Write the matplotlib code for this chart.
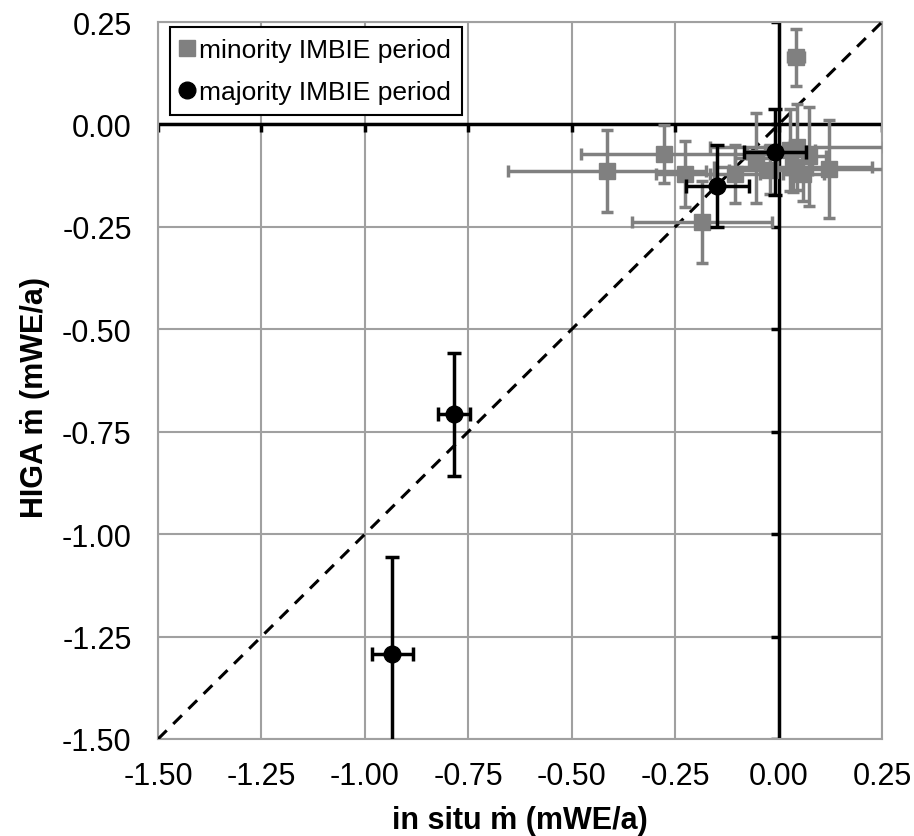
import matplotlib
matplotlib.use("Agg")
import matplotlib.pyplot as plt
from matplotlib.lines import Line2D

plt.rcParams['font.family'] = ['Liberation Sans', 'DejaVu Sans']

# minority IMBIE period (grey squares)
minority_x = [0.042, -0.415, -0.277, -0.226, -0.185, -0.105, -0.055, 0.028, 0.044, 0.060, 0.074, 0.122, 0.035, -0.020]
minority_y = [0.164, -0.113, -0.072, -0.121, -0.238, -0.121, -0.082, -0.062, -0.055, -0.120, -0.078, -0.109, -0.105, -0.110]
minority_xerr = [0.02, 0.24, 0.20, 0.07, 0.17, 0.06, 0.05, 0.06, 0.21, 0.05, 0.04, 0.14, 0.19, 0.10]
minority_yerr = [0.07, 0.10, 0.07, 0.08, 0.10, 0.07, 0.11, 0.10, 0.105, 0.066, 0.12, 0.12, 0.06, 0.06]

# majority IMBIE period (black circles)
majority_x = [-0.934, -0.785, -0.148, -0.009]
majority_y = [-1.293, -0.707, -0.150, -0.068]
majority_xerr = [0.05, 0.039, 0.076, 0.075]
majority_yerr = [0.236, 0.15, 0.10, 0.105]

ticks = [-1.5, -1.25, -1.0, -0.75, -0.5, -0.25, 0.0, 0.25]
tick_labels = ["%.2f" % t for t in ticks]

fig = plt.figure(figsize=(9.14, 8.37), dpi=100)
ax = fig.add_axes([0.1729, 0.1159, 0.7921, 0.8566])

ax.set_xlim(-1.5, 0.25)
ax.set_ylim(-1.5, 0.25)
ax.set_xticks(ticks)
ax.set_yticks(ticks)
ax.set_xticklabels(tick_labels, fontsize=22)
ax.set_yticklabels(tick_labels, fontsize=22)
ax.tick_params(axis='x', length=0, pad=16)
ax.tick_params(axis='y', length=0, pad=19)
ax.grid(True, color='#a0a0a0', lw=1.5)
ax.set_axisbelow(True)
for sp in ax.spines.values():
    sp.set_color('#a0a0a0')
    sp.set_linewidth(1.5)

# zero axes with tick marks (Excel style)
ax.axhline(0, color='black', lw=2.5, zorder=2)
ax.axvline(0, color='black', lw=2.5, zorder=2)
ax.plot(ticks, [0] * len(ticks), ls='none', marker=3, ms=6, mew=2.5, color='black', zorder=2)
ax.plot([0] * len(ticks), ticks, ls='none', marker=0, ms=6, mew=2.5, color='black', zorder=2)

# 1:1 line
ax.plot(ticks, ticks, color='black', ls=(0, (4, 3)), lw=2.2, zorder=3)

ax.errorbar(minority_x, minority_y, xerr=minority_xerr, yerr=minority_yerr,
            fmt='s', color='#808080', ms=11, elinewidth=2.5, capsize=4, capthick=2.5, zorder=4)
ax.errorbar(majority_x, majority_y, xerr=majority_xerr, yerr=majority_yerr,
            fmt='o', color='black', ms=12, elinewidth=2.5, capsize=5, capthick=2.5, zorder=5)

ax.set_xlabel("in situ ṁ (mWE/a)", fontsize=22, fontweight='bold', labelpad=10)
ax.set_ylabel("HIGA ṁ (mWE/a)", fontsize=22, fontweight='bold')
ax.yaxis.set_label_coords(-0.149, 0.478)

handles = [
    Line2D([], [], ls='none', marker='s', color='#808080', ms=11),
    Line2D([], [], ls='none', marker='o', color='black', ms=12),
]
leg = ax.legend(handles, ["minority IMBIE period", "majority IMBIE period"],
                loc='upper left', bbox_to_anchor=(0.016, 0.993), fontsize=19,
                fancybox=False, framealpha=1, edgecolor='black',
                handlelength=0.5, handletextpad=0.2, borderpad=0.42, labelspacing=0.68,
                borderaxespad=0.0)
leg.get_frame().set_linewidth(1.5)

fig.savefig("out.png", dpi=100)
